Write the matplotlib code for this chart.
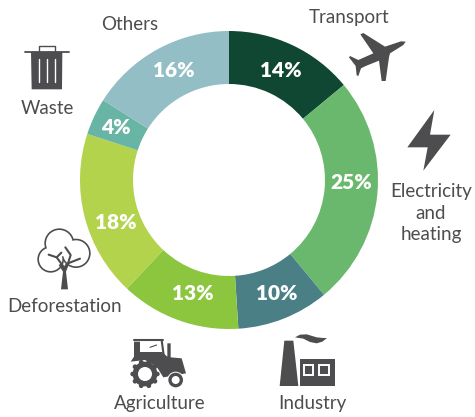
import math

import matplotlib
matplotlib.use("Agg")
import matplotlib.pyplot as plt
from matplotlib.patches import Circle, Polygon, Rectangle

sectors = ["Transport", "Electricity and heating", "Industry", "Agriculture", "Deforestation", "Waste", "Others"]
shares = [14, 25, 10, 13, 18, 4, 16]
colors = ["#0F4733", "#69B86D", "#4A7F85", "#8CC63F", "#B2D34B", "#69B5A5", "#93BEC5"]
pct_pos = [(281, 70), (351, 182), (277, 293), (193, 293), (116, 222), (116, 127), (174, 70)]

labels = ["Others", "Waste", "Transport", "Electricity\nand\nheating", "Deforestation", "Agriculture", "Industry"]
label_pos = [(130, 24), (47, 108), (349, 17), (431, 213), (65, 307), (160, 404), (312, 404)]

GREY = "#4D4D4F"
FONT = "Lato"

fig = plt.figure(figsize=(4.75, 4.17), dpi=100)
ax = fig.add_axes([0, 0, 1, 1])

# y axis runs downward, so angle -90 is the top and counterclock reads clockwise
ax.pie(
    shares,
    colors=colors,
    startangle=-90,
    counterclock=True,
    center=(229, 180),
    radius=149,
    wedgeprops={"width": 53, "linewidth": 0},
)
ax.set_xlim(0, 475)
ax.set_ylim(417, 0)
ax.set_aspect("equal")
ax.axis("off")

for value, (x, y) in zip(shares, pct_pos):
    ax.text(x, y, f"{value}%", color="white", fontsize=15, fontweight="heavy", family=FONT, ha="center", va="center")

for text, (x, y) in zip(labels, label_pos):
    ax.text(x, y, text, color=GREY, fontsize=13.5, family=FONT, ha="center", va="center", linespacing=1.3)


def z1(points):
    return [(x / 3, y / 3) for x, y in points]


def z2(points):
    return [(235 + x / 3, y / 3) for x, y in points]


def z3(points):
    return [(x / 3, 210 + y / 3) for x, y in points]


def z4(points):
    return [(235 + x / 3, 210 + y / 3) for x, y in points]


def fill(points, color=GREY, zorder=3):
    ax.add_patch(Polygon(points, closed=True, facecolor=color, edgecolor="none", zorder=zorder))


def stroke(points, color=GREY, lw=1.5, zorder=3):
    xs, ys = zip(*points)
    ax.plot(xs, ys, color=color, lw=lw, solid_capstyle="round", zorder=zorder)


def disc(center, r, color=GREY, zorder=3):
    (px, py), = z3([center])
    ax.add_patch(Circle((px, py), r / 3, facecolor=color, edgecolor="none", zorder=zorder))


# waste bin
fill(z1([(93, 156), (187, 156), (186, 268), (95, 268)]))
stroke(z1([(75, 156), (206, 156)]), lw=1.3)
stroke(z1([(116, 156), (116, 139), (166, 139), (166, 156)]), lw=1.0)
for zx in (116, 141, 166):
    stroke(z1([(zx, 178), (zx, 245)]), color="white", lw=1.0, zorder=4)

# plane
fill(z2([(512, 125), (505, 135), (465, 160), (462, 172), (452, 243), (440, 243), (432, 182), (392, 198),
         (378, 205), (370, 228), (365, 226), (362, 198), (342, 172), (345, 168), (370, 180), (415, 160),
         (376, 103), (385, 99), (450, 140), (498, 124)]))

# bolt
fill(z2([(598, 330), (517, 442), (578, 442), (565, 512), (647, 404), (585, 404)]))

# tree crown: dark discs with white discs on top leave the outline
crown = [(178, 100, 45), (228, 130, 44), (152, 148, 40)]
for cx, cy, r in crown:
    disc((cx, cy), r)
for cx, cy, r in crown:
    disc((cx, cy), r - 5, color="white", zorder=3.1)
fill(z3([(183, 238), (204, 238), (198, 185), (206, 165), (198, 160), (192, 170), (184, 160), (176, 165), (189, 185)]), zorder=3.2)
stroke(z3([(146, 134), (170, 142), (192, 172)]), lw=1.5, zorder=3.2)
stroke(z3([(196, 112), (212, 135), (204, 160)]), lw=1.5, zorder=3.2)
stroke(z3([(204, 160), (240, 146)]), lw=1.5, zorder=3.2)
stroke(z3([(170, 142), (184, 128)]), lw=1.5, zorder=3.2)

# tractor
fill(z3([(402, 395), (420, 395), (420, 426), (486, 426), (502, 440), (502, 400), (512, 400), (512, 442), (545, 445),
         (558, 490), (490, 502), (470, 470), (435, 450), (392, 455), (402, 440)]))
stroke(z3([(402, 391), (490, 391)]), lw=1.5)
stroke(z3([(485, 391), (492, 442)]), lw=1.5)
stroke(z3([(450, 412), (470, 405)]), lw=0.8)
for i in range(10):
    angle = 2 * math.pi * i / 10
    disc((435 + 37 * math.cos(angle), 492 + 37 * math.sin(angle)), 7, zorder=3.3)
disc((435, 492), 37, zorder=3.3)
disc((435, 492), 21, color="white", zorder=3.4)
disc((527, 510), 25, color="white", zorder=3.3)
disc((527, 510), 22, zorder=3.4)
disc((527, 510), 12, color="white", zorder=3.5)

# factory
fill(z4([(148, 392), (175, 392), (190, 528), (134, 528)]))
ax.add_patch(Rectangle((235 + 195 / 3, 210 + 447 / 3), 105 / 3, 81 / 3, facecolor=GREY, edgecolor="none", zorder=3))
for zx in (203, 250):
    ax.add_patch(Rectangle((235 + zx / 3 + 1, 210 + 462 / 3 + 1), 32 / 3 - 1, 33 / 3 - 1, facecolor="none",
                           edgecolor="white", lw=1.4, zorder=4))
fill(z4([(180, 382), (195, 374), (215, 373), (245, 382), (265, 384), (276, 384), (262, 395), (245, 400),
         (225, 396), (205, 386)]))

fig.savefig("out.png", dpi=100)
